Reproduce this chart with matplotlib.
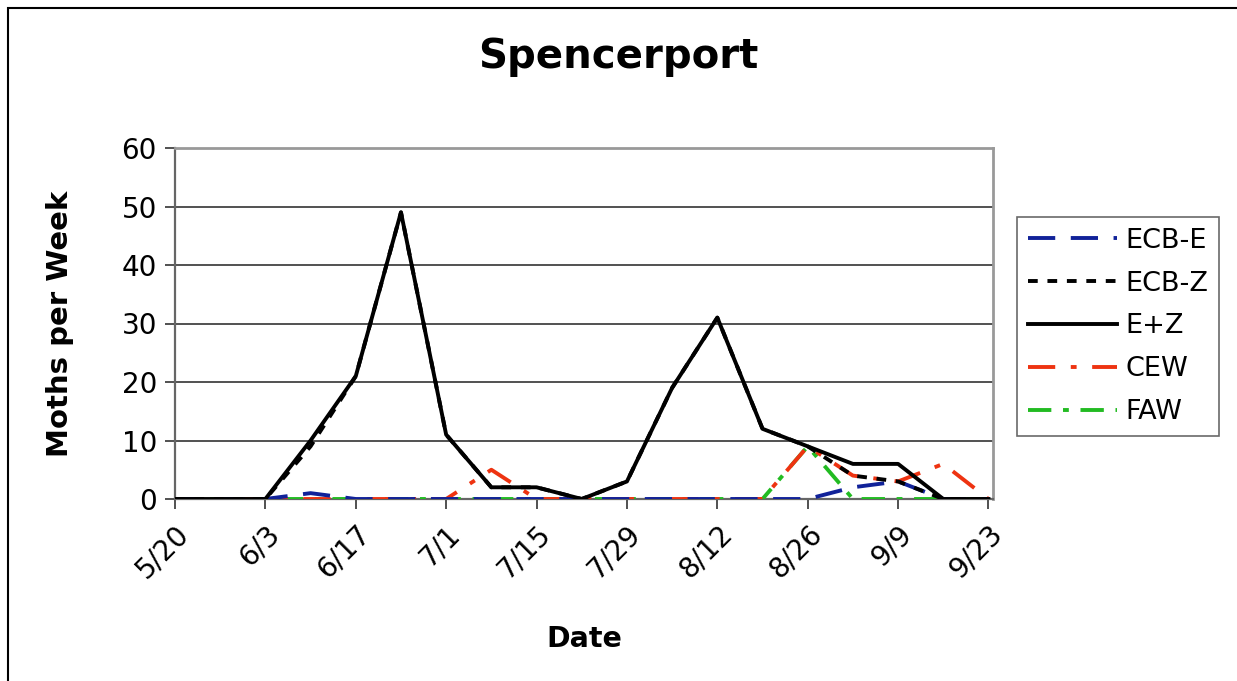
import matplotlib.pyplot as plt
from matplotlib.patches import Rectangle

# weekly trap dates, 5/20 .. 9/23
dates = ["5/20", "5/27", "6/3", "6/10", "6/17", "6/24", "7/1", "7/8", "7/15", "7/22",
         "7/29", "8/5", "8/12", "8/19", "8/26", "9/2", "9/9", "9/16", "9/23"]
tick_labels = dates[::2]

ecb_e = [0, 0, 0, 1, 0, 0, 0, 0, 0, 0, 0, 0, 0, 0, 0, 2, 3, 0, 0]
ecb_z = [0, 0, 0, 9, 21, 49, 11, 2, 2, 0, 3, 19, 31, 12, 9, 4, 3, 0, 0]
e_plus_z = [0, 0, 0, 10, 21, 49, 11, 2, 2, 0, 3, 19, 31, 12, 9, 6, 6, 0, 0]
cew = [0, 0, 0, 0, 0, 0, 0, 5, 0, 0, 0, 0, 0, 0, 9, 4, 3, 6, 0]
faw = [0, 0, 0, 0, 0, 0, 0, 0, 0, 0, 0, 0, 0, 0, 9, 0, 0, 0, 0]

plt.rcParams["font.family"] = "DejaVu Sans"

fig = plt.figure(figsize=(12.37, 6.81), dpi=100)
ax = fig.add_axes([175 / 1237, 1 - 499 / 681, (993 - 175) / 1237, (499 - 148) / 681])

x = list(range(len(dates)))
lw = 2.8
ax.plot(x, faw, color="#22BB22", lw=lw, dashes=(6, 3, 1.5, 3), label="FAW", zorder=3)
ax.plot(x, cew, color="#EE3311", lw=lw, dashes=(7, 4, 1.5, 4), label="CEW", zorder=3)
ax.plot(x, ecb_e, color="#112299", lw=lw, dashes=(7, 4), label="ECB-E", zorder=3)
ax.plot(x, ecb_z, color="black", lw=lw, dashes=(2.5, 2.5), label="ECB-Z", zorder=4)
ax.plot(x, e_plus_z, color="black", lw=lw, label="E+Z", zorder=5)

ax.set_xlim(0, 18.1)
ax.set_ylim(0, 60)
ax.set_yticks(range(0, 61, 10))
ax.yaxis.grid(True, color="#333333", lw=1.2)
ax.set_axisbelow(True)
ax.set_xticks(x[::2])
ax.set_xticklabels(tick_labels, rotation=45, ha="right", rotation_mode="anchor")
ax.tick_params(axis="both", labelsize=20, length=7, color="#333333", width=1.2,
               direction="out")
ax.tick_params(axis="x", pad=8)
ax.tick_params(axis="y", pad=6)

for side in ["top", "right"]:
    ax.spines[side].set_color("#999999")
    ax.spines[side].set_linewidth(2)
ax.spines["left"].set_color("#666666")
ax.spines["bottom"].set_color("#666666")
ax.spines["left"].set_linewidth(1.6)
ax.spines["bottom"].set_linewidth(1.6)

ax.set_ylabel("Moths per Week", fontsize=21, fontweight="bold", labelpad=34)
ax.set_xlabel("Date", fontsize=20.5, fontweight="bold", labelpad=30)
fig.text(0.5, 1 - 57 / 681, "Spencerport", ha="center", va="center",
         fontsize=29, fontweight="bold")

handles, labels = ax.get_legend_handles_labels()
order = [2, 3, 4, 1, 0]
leg = fig.legend([handles[i] for i in order], [labels[i] for i in order],
                 loc="upper left", bbox_to_anchor=(1017 / 1237, 1 - 217 / 681),
                 fontsize=19.5, frameon=True, fancybox=False, handlelength=3.3,
                 handletextpad=0.3, labelspacing=0.62, borderpad=0.4,
                 borderaxespad=0)
leg.get_frame().set_edgecolor("#444444")
leg.get_frame().set_linewidth(1.2)

fig.patches.append(Rectangle((8 / 1237, -0.01), 1.0, 1 - 8 / 681 + 0.01,
                             transform=fig.transFigure, fill=False,
                             edgecolor="black", lw=1.5))

fig.savefig("out.png", dpi=100)
